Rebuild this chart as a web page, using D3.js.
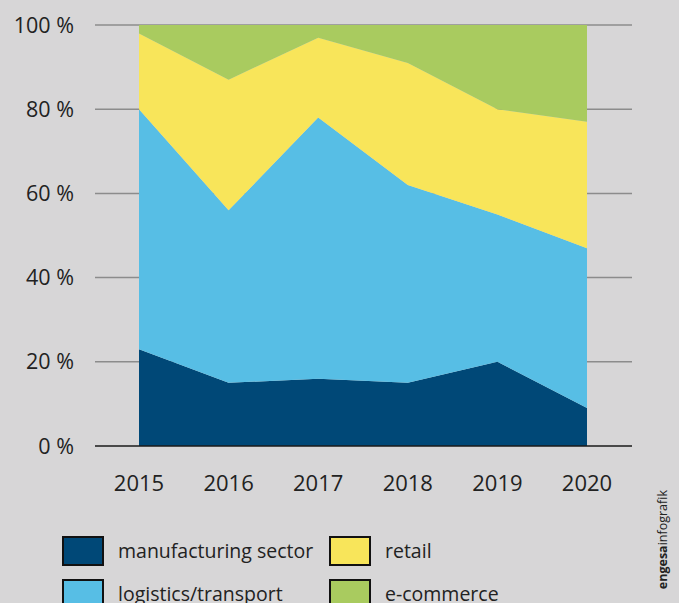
<!DOCTYPE html>
<html>
<head>
<meta charset="utf-8">
<script src="https://cdn.jsdelivr.net/npm/d3@7"></script>
<style>
  html, body { margin: 0; padding: 0; background: #d7d6d7; }
  svg { display: block; font-family: 'Open Sans', sans-serif; }
</style>
</head>
<body>
<svg id="chart"></svg>
<script>
const w = 679, h = 603;
const margin = { left: 139, right: 92, top: 25, bottom: 157 };

// data (share in %)
const years = [2015, 2016, 2017, 2018, 2019, 2020];
const manufacturing = [23, 15, 16, 15, 20, 9];
const logistics = [57, 41, 62, 47, 35, 38];
const retail = [18, 31, 19, 29, 25, 30];
const ecommerce = [2, 13, 3, 9, 20, 23];
const seriesNames = ['manufacturing sector', 'logistics/transport', 'retail', 'e-commerce'];
const seriesColors = ['#004877', '#57bee5', '#f8e55a', '#a9cb5f'];
const yTicks = [0, 20, 40, 60, 80, 100];

const chart = d3.select('#chart')
    .attr('width', w)
    .attr('height', h);

// rows for the stack
const table = years.map((y, i) => ({
    year: y,
    'manufacturing sector': manufacturing[i],
    'logistics/transport': logistics[i],
    'retail': retail[i],
    'e-commerce': ecommerce[i]
}));

const stacked = d3.stack().keys(seriesNames)(table);

const xScale = d3.scalePoint()
    .domain(years)
    .range([margin.left, w - margin.right]);

const yScale = d3.scaleLinear()
    .domain([0, 100])
    .range([h - margin.bottom, margin.top]);

const color = d3.scaleOrdinal().domain(seriesNames).range(seriesColors);

// grid lines first, the areas cover them
chart.append('g')
    .selectAll('line')
    .data(yTicks.filter(d => d > 0))
    .enter()
    .append('line')
    .attr('x1', 95)
    .attr('x2', 632)
    .attr('y1', d => yScale(d))
    .attr('y2', d => yScale(d))
    .attr('stroke', '#8c8c8c')
    .attr('stroke-width', 1.5);

const area = d3.area()
    .x(d => xScale(d.data.year))
    .y0(d => yScale(d[0]))
    .y1(d => yScale(d[1]));

chart.append('g')
    .selectAll('path')
    .data(stacked)
    .enter()
    .append('path')
    .attr('d', area)
    .attr('fill', d => color(d.key));

// baseline
chart.append('line')
    .attr('x1', 95)
    .attr('x2', 632)
    .attr('y1', yScale(0))
    .attr('y2', yScale(0))
    .attr('stroke', '#1a1a1a')
    .attr('stroke-width', 1.5);

// y labels
chart.append('g')
    .selectAll('text')
    .data(yTicks)
    .enter()
    .append('text')
    .attr('x', 74)
    .attr('y', d => yScale(d))
    .attr('dy', '0.35em')
    .attr('text-anchor', 'end')
    .attr('font-size', '21.5px')
    .attr('fill', '#222')
    .text(d => d + ' %');

// x labels
chart.append('g')
    .selectAll('text')
    .data(years)
    .enter()
    .append('text')
    .attr('x', d => xScale(d))
    .attr('y', 491)
    .attr('text-anchor', 'middle')
    .attr('font-size', '22px')
    .attr('fill', '#222')
    .text(d => d);

// legend, two columns
const legendPos = [[63, 537], [63, 580], [330, 537], [330, 580]];
const legend = chart.append('g')
    .selectAll('g')
    .data(seriesNames)
    .enter()
    .append('g')
    .attr('transform', (d, i) => `translate(${legendPos[i][0]}, ${legendPos[i][1]})`);

legend.append('rect')
    .attr('width', 40)
    .attr('height', 28)
    .attr('fill', d => color(d))
    .attr('stroke', '#111')
    .attr('stroke-width', 2);

legend.append('text')
    .attr('x', 55)
    .attr('y', 14)
    .attr('dy', '0.35em')
    .attr('font-size', '19.5px')
    .attr('fill', '#222')
    .text(d => d);

// credit, rotated
const credit = chart.append('text')
    .attr('transform', 'translate(667, 490) rotate(-90)')
    .attr('text-anchor', 'end')
    .attr('font-size', '12.5px')
    .attr('fill', '#222');
credit.append('tspan').attr('font-weight', 'bold').text('engesa');
credit.append('tspan').text('infografik');
</script>
</body>
</html>
